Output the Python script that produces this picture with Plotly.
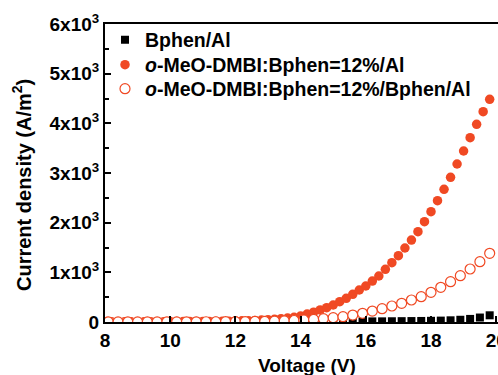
import plotly.graph_objects as go

# ---------------- data ----------------
v_filled = [8.0, 8.2, 8.4, 8.6, 8.8, 9.0, 9.2, 9.4, 9.6, 9.8,
            10.0, 10.2, 10.4, 10.6, 10.8, 11.0, 11.2, 11.4, 11.6, 11.8,
            12.0, 12.2, 12.4, 12.6, 12.8, 13.0, 13.2, 13.4, 13.6, 13.8,
            14.0, 14.2, 14.4, 14.6, 14.8, 15.0, 15.2, 15.4, 15.6, 15.8,
            16.0, 16.2, 16.4, 16.6, 16.8, 17.0, 17.2, 17.4, 17.6, 17.8,
            18.0, 18.2, 18.4, 18.6, 18.8, 19.0, 19.2, 19.4, 19.6, 19.8]
j_doped_al = [4, 4, 4, 5, 5, 5, 6, 6, 7, 7,
              8, 8, 9, 9, 10, 11, 12, 13, 15, 17,
              20, 23, 27, 32, 38, 46, 55, 66, 80, 95,
              121, 160, 198, 242, 288, 342, 409, 477, 557, 644,
              725, 825, 926, 1061, 1194, 1335, 1490, 1650, 1818, 2019,
              2221, 2442, 2671, 2913, 3181, 3443, 3711, 3980, 4234, 4484]

v_open = [8.1, 8.4, 8.7, 9.0, 9.3, 9.6, 9.9, 10.2, 10.5, 10.8,
          11.1, 11.4, 11.7, 12.0, 12.3, 12.6, 12.9, 13.2, 13.5, 13.8,
          14.1, 14.4, 14.7, 15.0, 15.3, 15.6, 15.9, 16.2, 16.5, 16.8,
          17.1, 17.4, 17.7, 18.0, 18.3, 18.6, 18.9, 19.2, 19.5, 19.8]
j_doped_bphen = [2, 2, 2, 2, 3, 3, 3, 3, 4, 4,
                 5, 5, 6, 7, 9, 11, 14, 18, 23, 30,
                 40, 52, 68, 87, 107, 140, 175, 220, 268, 322,
                 376, 443, 509, 598, 698, 811, 932, 1067, 1214, 1383]

j_bphen = [1, 1, 1, 1, 1, 2, 2, 2, 2, 2,
           2, 3, 3, 3, 3, 4, 4, 4, 5, 5,
           6, 6, 7, 8, 9, 10, 11, 12, 13, 15,
           17, 19, 21, 24, 28, 34, 45, 62, 90, 135]

y_tickvals = [0, 1000, 2000, 3000, 4000, 5000, 6000]
y_ticktext = ["0", "1x10<sup>3</sup>", "2x10<sup>3</sup>", "3x10<sup>3</sup>",
              "4x10<sup>3</sup>", "5x10<sup>3</sup>", "6x10<sup>3</sup>"]
x_tickvals = [8, 10, 12, 14, 16, 18, 20]

names = ["Bphen/Al",
         "<i>o</i>-MeO-DMBI:Bphen=12%/Al",
         "<i>o</i>-MeO-DMBI:Bphen=12%/Bphen/Al"]

RED = "#F04923"
FONT = "Liberation Sans, Arial, sans-serif"

fig = go.Figure()
fig.add_trace(go.Scatter(
    x=v_open, y=j_bphen, mode="markers", name=names[0], legend="legend",
    marker=dict(symbol="square", size=8, color="black", line=dict(width=0))))
fig.add_trace(go.Scatter(
    x=v_filled, y=j_doped_al, mode="markers", name=names[1], legend="legend2",
    marker=dict(symbol="circle", size=9.5, color=RED, line=dict(width=0))))
fig.add_trace(go.Scatter(
    x=v_open, y=j_doped_bphen, mode="markers", name=names[2], legend="legend3",
    marker=dict(symbol="circle", size=10, color="white",
                line=dict(width=1.2, color=RED))))

legend_font = dict(family=FONT, size=19.5, color="black", weight="bold")


def legend_at(row_y_px):
    return dict(x=0.0, y=(322 - row_y_px) / 298, xanchor="left", yanchor="middle",
                bgcolor="rgba(0,0,0,0)", borderwidth=0, font=legend_font,
                itemsizing="trace")


fig.update_layout(
    width=498, height=375,
    margin=dict(l=105, r=0, t=24, b=53),
    paper_bgcolor="white", plot_bgcolor="white",
    font=dict(family=FONT, size=19, color="black", weight="bold"),
    showlegend=True,
    legend=legend_at(40),
    legend2=legend_at(65),
    legend3=legend_at(89),
    xaxis=dict(range=[8, 8 + 393 / 32.6], tickvals=x_tickvals,
               ticks="inside", ticklen=6, tickwidth=2, tickcolor="black",
               ticklabeloverflow="allow", automargin=False,
               showline=True, linewidth=2, linecolor="black", mirror=True,
               showgrid=False, zeroline=False,
               tickfont=dict(family=FONT, size=19, weight="bold")),
    yaxis=dict(range=[0, 6000], tickvals=y_tickvals, ticktext=y_ticktext,
               ticks="inside", ticklen=6, tickwidth=2, tickcolor="black",
               automargin=False,
               minor=dict(dtick=500, ticks="inside", ticklen=4, tickwidth=2,
                          tickcolor="black"),
               showline=True, linewidth=2, linecolor="black", mirror=False,
               showgrid=False, zeroline=False,
               tickfont=dict(family=FONT, size=19, weight="bold")),
    annotations=[
        dict(text="Current density (A/m<sup>2</sup>)", xref="paper", yref="paper",
             x=-0.211, y=0.46, textangle=-90, showarrow=False,
             xanchor="center", yanchor="middle",
             font=dict(family=FONT, size=20, weight="bold")),
        dict(text="Voltage (V)", xref="paper", yref="paper",
             x=(307 - 105) / 393, y=-(365 - 322) / 298, showarrow=False,
             xanchor="center", yanchor="middle",
             font=dict(family=FONT, size=19, weight="bold")),
    ],
)

fig.write_html("out.html")
